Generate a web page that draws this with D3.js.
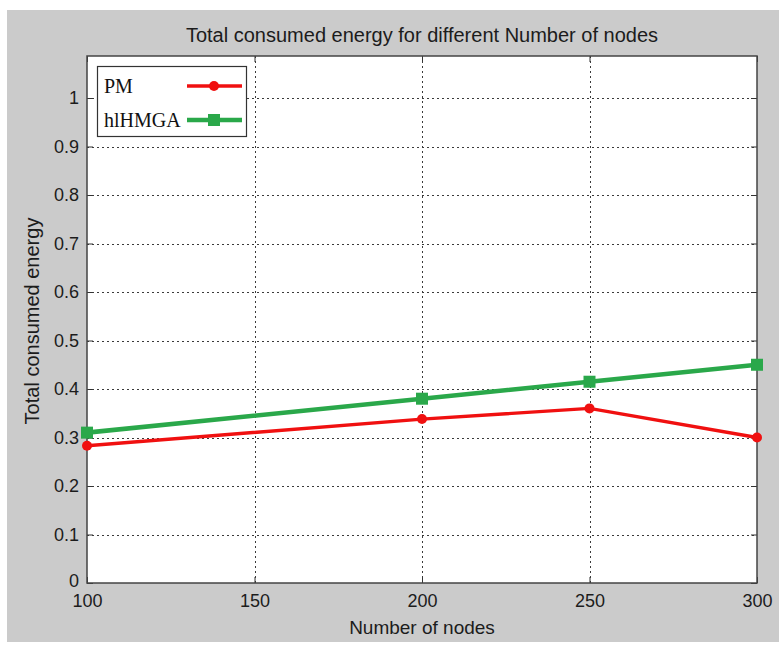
<!DOCTYPE html>
<html>
<head>
<meta charset="utf-8">
<script src="https://cdn.jsdelivr.net/npm/d3@7"></script>
<style>
  html, body { margin: 0; padding: 0; background: #fff; }
  svg { display: block; }
</style>
</head>
<body>
<svg></svg>
<script>
// values
const nodes = [100, 200, 250, 300];
const pmEnergy = [0.283, 0.338, 0.36, 0.30];
const hlhmgaEnergy = [0.31, 0.38, 0.415, 0.45];
const xTicks = [100, 150, 200, 250, 300];
const yTicks = [0, 0.1, 0.2, 0.3, 0.4, 0.5, 0.6, 0.7, 0.8, 0.9, 1];

const constants = {
  width: 779,
  height: 648,
  plot: { left: 87, right: 757, top: 56, bottom: 583 },
  yMax: 1.0866,
  title: "Total consumed energy for different Number of nodes",
  xLabel: "Number of nodes",
  yLabel: "Total consumed energy",
  font: "'Liberation Sans', Arial, sans-serif",
  serif: "'Liberation Serif', 'Times New Roman', serif",
  textColor: "#1c1c1c",
  bg: "#cbcbcb"
};

const series = [
  { name: "PM", values: pmEnergy, color: "#f01010", width: 3.4, marker: "circle" },
  { name: "hlHMGA", values: hlhmgaEnergy, color: "#2aa84a", width: 4.6, marker: "square" }
];

const draw = () => {
  const svg = d3.select("svg")
    .attr("width", constants.width)
    .attr("height", constants.height);

  // figure background (MATLAB grey)
  svg.append("rect")
    .attr("x", 7).attr("y", 10)
    .attr("width", constants.width - 7)
    .attr("height", 632)
    .attr("fill", constants.bg);

  const { left, right, top, bottom } = constants.plot;

  const x = d3.scaleLinear().domain([100, 300]).range([left, right]);
  const y = d3.scaleLinear().domain([0, constants.yMax]).range([bottom, top]);

  svg.append("rect")
    .attr("x", left).attr("y", top)
    .attr("width", right - left).attr("height", bottom - top)
    .attr("fill", "#fff");

  // dotted grid
  const grid = svg.append("g").attr("stroke", "#3a3a3a").attr("stroke-width", 1)
    .attr("stroke-dasharray", "2,3");
  grid.selectAll(".gx").data(xTicks.slice(1, -1)).join("line")
    .attr("x1", (d) => Math.round(x(d)) + 0.5).attr("x2", (d) => Math.round(x(d)) + 0.5)
    .attr("y1", top).attr("y2", bottom);
  grid.selectAll(".gy").data(yTicks.slice(1)).join("line")
    .attr("x1", left).attr("x2", right)
    .attr("y1", (d) => Math.round(y(d)) + 0.5).attr("y2", (d) => Math.round(y(d)) + 0.5);

  // axes: ticks inside, on all four sides
  const tickLen = 6;
  const axisStyle = (g) => {
    g.select(".domain").remove();
    g.selectAll(".tick line").attr("stroke", "#333");
    g.selectAll(".tick text")
      .attr("fill", constants.textColor)
      .attr("font-family", constants.font)
      .attr("font-size", 18);
  };

  svg.append("g")
    .attr("transform", `translate(0,${bottom})`)
    .call(d3.axisBottom(x).tickValues(xTicks).tickSize(-tickLen).tickPadding(11).tickFormat(d3.format("d")))
    .call(axisStyle);
  svg.append("g")
    .attr("transform", `translate(0,${top})`)
    .call(d3.axisTop(x).tickValues(xTicks).tickSize(-tickLen).tickFormat(""))
    .call(axisStyle);
  const yAxis = svg.append("g")
    .attr("transform", `translate(${left},0)`)
    .call(d3.axisLeft(y).tickValues(yTicks).tickSize(-tickLen).tickPadding(8).tickFormat((d) => String(+d.toFixed(1))))
    .call(axisStyle);
  // the "0" label sits a little higher than the others, as in the reference
  yAxis.selectAll(".tick text").filter((d) => d === 0).attr("dy", "0.2em");
  svg.append("g")
    .attr("transform", `translate(${right},0)`)
    .call(d3.axisRight(y).tickValues(yTicks).tickSize(-tickLen).tickFormat(""))
    .call(axisStyle);

  // box
  svg.append("rect")
    .attr("x", left).attr("y", top)
    .attr("width", right - left).attr("height", bottom - top)
    .attr("fill", "none").attr("stroke", "#444").attr("stroke-width", 1.5);

  // lines and markers
  const line = d3.line().x((d) => x(d[0])).y((d) => y(d[1]));
  const drawMarker = (g, s, cx, cy) => {
    if (s.marker === "circle") {
      g.append("circle").attr("cx", cx).attr("cy", cy).attr("r", 5).attr("fill", s.color);
    } else {
      g.append("rect").attr("x", cx - 6).attr("y", cy - 6).attr("width", 12).attr("height", 12).attr("fill", s.color);
    }
  };

  series.forEach((s) => {
    const pts = nodes.map((n, i) => [n, s.values[i]]);
    const g = svg.append("g");
    g.append("path").datum(pts)
      .attr("fill", "none").attr("stroke", s.color)
      .attr("stroke-width", s.width).attr("d", line);
    pts.forEach(([n, v]) => drawMarker(g, s, x(n), y(v)));
  });

  // legend
  const legend = svg.append("g");
  legend.append("rect")
    .attr("x", 97.5).attr("y", 66.5).attr("width", 149).attr("height", 70)
    .attr("fill", "#fff").attr("stroke", "#333").attr("stroke-width", 1.2);
  series.forEach((s, i) => {
    const ly = 86 + i * 34;
    legend.append("text")
      .attr("x", 104).attr("y", ly + 7)
      .attr("font-family", constants.serif).attr("font-size", 20)
      .attr("fill", "#111").text(s.name);
    legend.append("line")
      .attr("x1", 187).attr("x2", 242).attr("y1", ly).attr("y2", ly)
      .attr("stroke", s.color).attr("stroke-width", s.width);
    drawMarker(legend, s, 214, ly);
  });

  // titles
  svg.append("text")
    .attr("x", (left + right) / 2).attr("y", 42)
    .attr("text-anchor", "middle")
    .attr("font-family", constants.font).attr("font-size", 20).attr("fill", constants.textColor)
    .text(constants.title);
  svg.append("text")
    .attr("x", (left + right) / 2).attr("y", 634)
    .attr("text-anchor", "middle")
    .attr("font-family", constants.font).attr("font-size", 19).attr("fill", constants.textColor)
    .text(constants.xLabel);
  svg.append("text")
    .attr("transform", `translate(39,321) rotate(-90)`)
    .attr("text-anchor", "middle")
    .attr("font-family", constants.font).attr("font-size", 20).attr("fill", constants.textColor)
    .text(constants.yLabel);
};

draw();
</script>
</body>
</html>
